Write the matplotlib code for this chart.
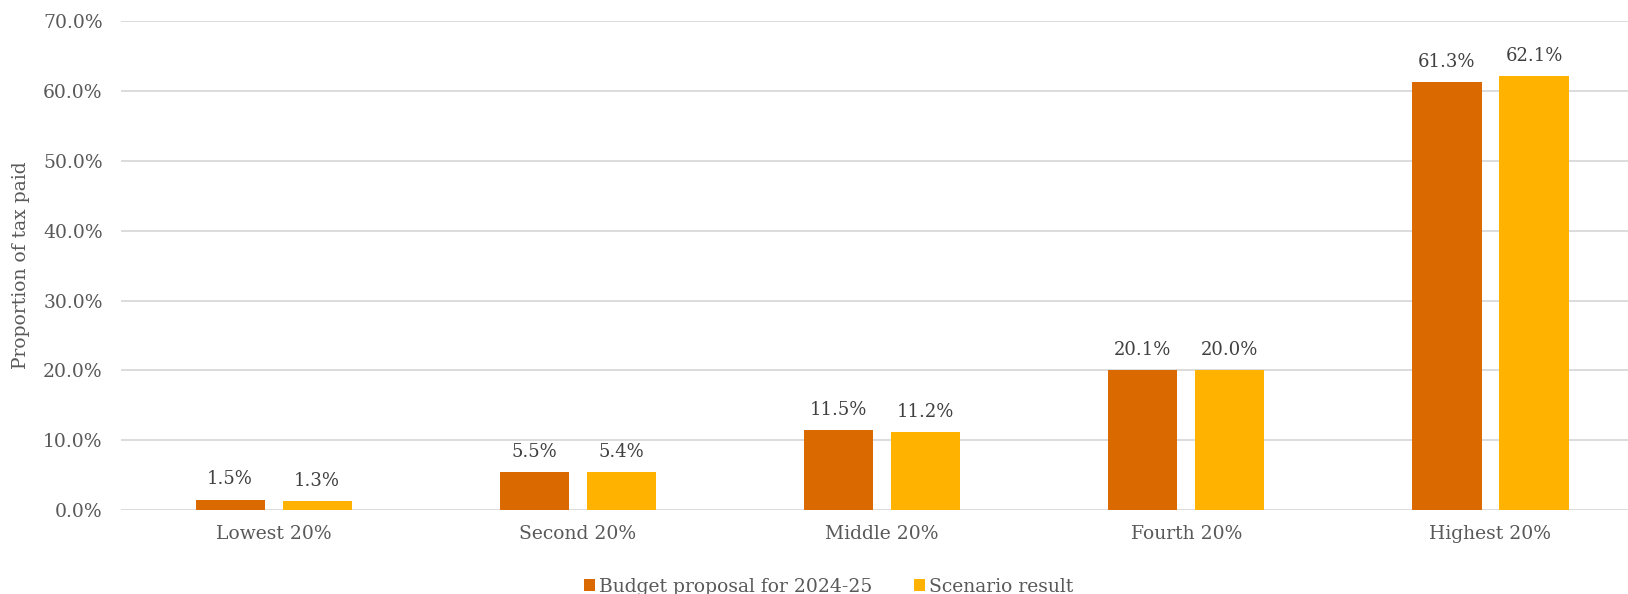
import matplotlib.pyplot as plt
import numpy as np
from matplotlib.ticker import PercentFormatter

# share of tax paid by income quintile
groups = ['Lowest 20%', 'Second 20%', 'Middle 20%', 'Fourth 20%', 'Highest 20%']
budget = [1.5, 5.5, 11.5, 20.1, 61.3]
scenario = [1.3, 5.4, 11.2, 20.0, 62.1]
series_names = ['Budget proposal for 2024-25', 'Scenario result']

plt.rcParams['font.family'] = ['DejaVu Serif']

fig = plt.figure(figsize=(16.28, 5.94), dpi=100)
ax = fig.add_axes([0.0746, 0.1414, 0.9254, 0.8227])

x = np.arange(len(groups))
w = 0.227
off = 0.143
b1 = ax.bar(x - off, budget, w, color='#DA6900', label=series_names[0], zorder=3)
b2 = ax.bar(x + off, scenario, w, color='#FFB300', label=series_names[1], zorder=3)

for bars, vals in [(b1, budget), (b2, scenario)]:
    for rect, v in zip(bars, vals):
        ax.annotate(f'{v:.1f}%', (rect.get_x() + rect.get_width() / 2, v),
                    xytext=(0, 8), textcoords='offset points',
                    ha='center', va='bottom', fontsize=13, color='#404040')

ax.set_ylim(0, 70)
ax.set_yticks(np.arange(0, 71, 10))
ax.yaxis.set_major_formatter(PercentFormatter(decimals=1))
ax.set_xlim(-0.5, 4.452)
ax.set_xticks(x)
ax.set_xticklabels(groups)
ax.tick_params(axis='both', length=0, labelsize=13.5, colors='#595959')
ax.tick_params(axis='x', pad=11)
ax.tick_params(axis='y', pad=13.5)
ax.grid(axis='y', color='#D9D9D9', linewidth=1.3, zorder=0)
for s in ax.spines.values():
    s.set_visible(False)

# y title centred about 21 px from the left edge
ax.set_ylabel('Proportion of tax paid', fontsize=13.5, color='#595959')
ax.yaxis.label.set_verticalalignment('center')
ax.yaxis.set_label_coords((21 - 121.5) / 1506.5, 0.5)

fig.legend(loc='center', bbox_to_anchor=(828.5 / 1628, 1 - 587 / 594), ncol=2,
           frameon=False, fontsize=13.5, handlelength=0.6, handleheight=0.6,
           handletextpad=0.2, columnspacing=2.2, labelcolor='#595959')

plt.savefig('out.png', dpi=100)
